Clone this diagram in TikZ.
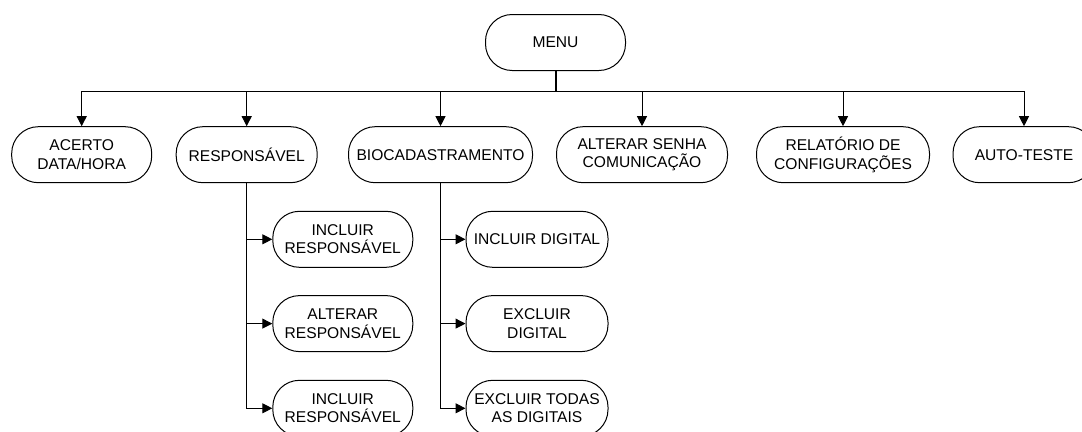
\documentclass[tikz,border=0pt]{standalone}
\usepackage{fontspec}
\setmainfont{Liberation Sans}
\usetikzlibrary{arrows.meta}

\begin{document}
\begin{tikzpicture}[x=0.75pt, y=-0.75pt,
    caixa/.style={draw, line width=0.75pt, rounded corners=20pt, minimum height=42pt,
      minimum width=105pt, align=center, inner sep=2pt,
      font=\fontsize{11.7pt}{13.8pt}\selectfont},
    seta/.style={line width=0.75pt, -{Triangle[length=7.5pt, width=7.5pt]}},
    haste/.style={line width=1.5pt}]
  \useasboundingbox (0,0) rectangle (1082,432);
  \clip (0,0) rectangle (1082,432);
  \fill[white] (0,0) rectangle (1082,432);

  \node[caixa] (menu) at (555.5,42.5) {MENU};
  \coordinate (barra) at (555.5,91);

  \node[caixa] (acerto) at (81.7,154.7) {ACERTO\\DATA/HORA};
  \node[caixa, minimum width=105.75pt] (resp) at (246.7,154.7) {RESPONSÁVEL};
  \node[caixa, minimum width=138pt] (bio) at (440.5,154.7) {BIOCADASTRAMENTO};
  \node[caixa, minimum width=128.25pt] (senha) at (642,154.7) {ALTERAR SENHA\\COMUNICAÇÃO};
  \node[caixa, minimum width=129.75pt] (relat) at (843,154.7) {RELATÓRIO DE\\CONFIGURAÇÕES};
  \node[caixa, minimum width=106.5pt] (teste) at (1024,154.7) {AUTO-TESTE};

  \node[caixa] (inclresp) at (342.8,239.3) {INCLUIR\\RESPONSÁVEL};
  \node[caixa] (altresp) at (342.8,323.6) {ALTERAR\\RESPONSÁVEL};
  \node[caixa] (inclresp2) at (342.8,408.3) {INCLUIR\\RESPONSÁVEL};

  \node[caixa, minimum width=106.5pt] (incldig) at (537,239.3) {INCLUIR DIGITAL};
  \node[caixa, minimum width=106.5pt] (excldig) at (537,323.6) {EXCLUIR\\DIGITAL};
  \node[caixa, minimum width=106.5pt] (excltodas) at (537,408.3) {EXCLUIR TODAS\\AS DIGITAIS};

  \draw[haste] (menu.south) -- (barra);
  \foreach \n in {acerto, resp, bio, senha, relat, teste}
    \draw[seta] (barra) -| (\n.north);

  \foreach \n in {inclresp, altresp, inclresp2}
    \draw[seta] (resp.south) |- (\n.west);
  \foreach \n in {incldig, excldig, excltodas}
    \draw[seta] (bio.south) |- (\n.west);
\end{tikzpicture}
\end{document}
